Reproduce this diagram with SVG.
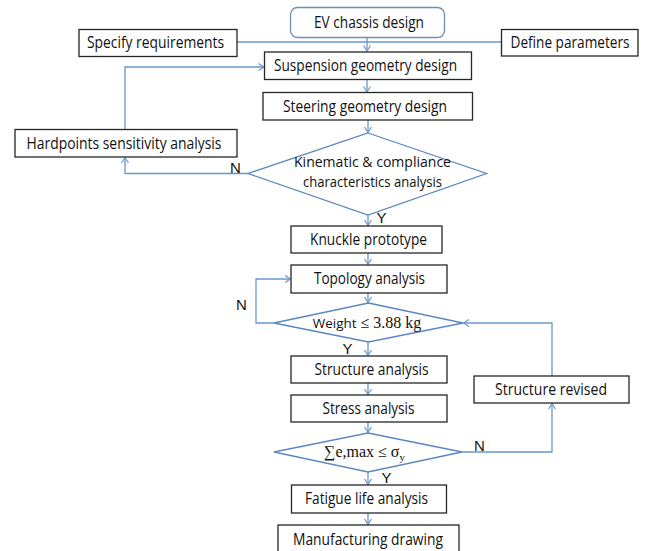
<svg xmlns="http://www.w3.org/2000/svg" width="647" height="551" viewBox="0 0 647 551">
<style>
.box{fill:#fff;stroke:#262626;stroke-width:1.3}
.rbox{fill:#fff;stroke:#6f8fb5;stroke-width:1.3}
.dia{fill:#fff;stroke:#5b87c0;stroke-width:1.3}
.con{fill:none;stroke:#6b97cc;stroke-width:1.3}
.t{font-family:"Open Sans","Liberation Sans",sans-serif;font-size:15.5px;fill:#111;text-anchor:middle}
.t2{font-size:14.5px}
.lbl{font-family:"Liberation Sans",Arial,sans-serif;font-size:15px;fill:#111}
.s{font-family:"Liberation Serif","Times New Roman",serif;font-size:16px;fill:#111}
</style>
<defs>
<marker id="ah" markerUnits="userSpaceOnUse" markerWidth="12" markerHeight="12" refX="6" refY="4" orient="auto" viewBox="0 0 12 8">
<path d="M0.5,0.5 L6,4 L0.5,7.5" fill="none" stroke="#6b97cc" stroke-width="1.2"/>
</marker>
</defs>
<rect width="647" height="551" fill="#fff"/>
<g id="connectors">
<path class="con" d="M237,42 H501"/>
<path class="con" d="M367,37 V51" marker-end="url(#ah)"/>
<path class="con" d="M367,79.5 V92" marker-end="url(#ah)"/>
<path class="con" d="M368,120 V132.5" marker-end="url(#ah)"/>
<path class="con" d="M248,173.5 H125 V157.5" marker-end="url(#ah)"/>
<path class="con" d="M125,129 V67 H264" marker-end="url(#ah)"/>
<path class="con" d="M368,215 V225.5" marker-end="url(#ah)"/>
<path class="con" d="M368,253 V264.5" marker-end="url(#ah)"/>
<path class="con" d="M368,293 V302.5" marker-end="url(#ah)"/>
<path class="con" d="M274,323 H256 V279 H290.5" marker-end="url(#ah)"/>
<path class="con" d="M368,342 V355.5" marker-end="url(#ah)"/>
<path class="con" d="M368,383 V394.5" marker-end="url(#ah)"/>
<path class="con" d="M368,422 V432.5" marker-end="url(#ah)"/>
<path class="con" d="M462,452 H552 V403.5" marker-end="url(#ah)"/>
<path class="con" d="M552,376 V323 H463.5" marker-end="url(#ah)"/>
<path class="con" d="M368,472 V484.5" marker-end="url(#ah)"/>
<path class="con" d="M368,513 V524.5" marker-end="url(#ah)"/>
</g>
<g id="ev">
<rect class="rbox" x="290.5" y="7.5" width="154" height="30" rx="7"/>
<text class="t" x="369" y="28" textLength="110" lengthAdjust="spacingAndGlyphs">EV chassis design</text>
</g>
<g id="specify">
<rect class="box" x="79" y="29.5" width="158" height="27"/>
<text class="t" x="155.5" y="48" textLength="137" lengthAdjust="spacingAndGlyphs">Specify requirements</text>
</g>
<g id="define">
<rect class="box" x="501.5" y="29.5" width="136.5" height="26.5"/>
<text class="t" x="570" y="48" textLength="119" lengthAdjust="spacingAndGlyphs">Define parameters</text>
</g>
<g id="suspension">
<rect class="box" x="264.5" y="52" width="207" height="27.5"/>
<text class="t" x="365.5" y="71" textLength="183" lengthAdjust="spacingAndGlyphs">Suspension geometry design</text>
</g>
<g id="steering">
<rect class="box" x="263" y="92.5" width="209.5" height="27.5"/>
<text class="t" x="365" y="111.5" textLength="164" lengthAdjust="spacingAndGlyphs">Steering geometry design</text>
</g>
<g id="hardpoints">
<rect class="box" x="15" y="129.5" width="222" height="27.5"/>
<text class="t" x="124" y="148.5" textLength="195" lengthAdjust="spacingAndGlyphs">Hardpoints sensitivity analysis</text>
</g>
<g id="kc">
<polygon class="dia" points="368,133 486.5,173.5 368,215 248,173.5"/>
<text class="t t2" x="372.5" y="167" textLength="157" lengthAdjust="spacingAndGlyphs">Kinematic &amp; compliance</text>
<text class="t t2" x="372.5" y="187" textLength="139" lengthAdjust="spacingAndGlyphs">characteristics analysis</text>
</g>
<g id="knuckle">
<rect class="box" x="291" y="226" width="151" height="27"/>
<text class="t" x="368.5" y="245" textLength="117" lengthAdjust="spacingAndGlyphs">Knuckle prototype</text>
</g>
<g id="topology">
<rect class="box" x="291" y="265" width="156" height="28"/>
<text class="t" x="369.5" y="284" textLength="111" lengthAdjust="spacingAndGlyphs">Topology analysis</text>
</g>
<g id="weight">
<polygon class="dia" points="368.5,303 463,323 368.5,342 274,323"/>
<text class="s" x="312.7" y="328"><tspan style="font-family:'Open Sans','Liberation Sans',sans-serif;font-size:13.5px">Weight</tspan> ≤ 3.88 kg</text>
</g>
<g id="structure">
<rect class="box" x="291" y="356" width="156" height="27"/>
<text class="t" x="371.5" y="374.5" textLength="114" lengthAdjust="spacingAndGlyphs">Structure analysis</text>
</g>
<g id="stress">
<rect class="box" x="291" y="395" width="156" height="27"/>
<text class="t" x="368.5" y="413.5" textLength="92" lengthAdjust="spacingAndGlyphs">Stress analysis</text>
</g>
<g id="sum">
<polygon class="dia" points="368,433 462,452 368,472 274,452"/>
<text class="s" x="324" y="457">∑e,max ≤ σ<tspan font-size="11" dy="4">y</tspan></text>
</g>
<g id="revised">
<rect class="box" x="474" y="376" width="155" height="27"/>
<text class="t" x="551" y="394.5" textLength="112" lengthAdjust="spacingAndGlyphs">Structure revised</text>
</g>
<g id="fatigue">
<rect class="box" x="291.5" y="485" width="155" height="28"/>
<text class="t" x="366.5" y="504" textLength="123" lengthAdjust="spacingAndGlyphs">Fatigue life analysis</text>
</g>
<g id="manufacturing">
<rect class="box" x="278" y="525" width="181" height="27"/>
<text class="t" x="368" y="545" textLength="150" lengthAdjust="spacingAndGlyphs">Manufacturing drawing</text>
</g>
<g id="labels">
<text class="lbl" x="230" y="173">N</text>
<text class="lbl" x="376.5" y="223">Y</text>
<text class="lbl" x="236" y="310">N</text>
<text class="lbl" x="342.5" y="354">Y</text>
<text class="lbl" x="474" y="451">N</text>
<text class="lbl" x="381.5" y="483">Y</text>
</g>
</svg>
